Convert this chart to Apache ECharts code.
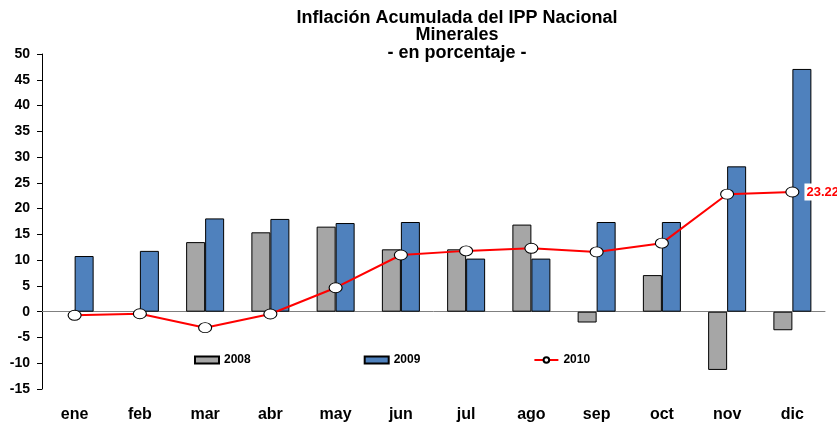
<!DOCTYPE html>
<html>
<head>
<meta charset="utf-8">
<script src="https://cdn.jsdelivr.net/npm/echarts@6/dist/echarts.min.js"></script>
<style>
  html, body { margin: 0; padding: 0; background: #fff; }
  #chart { width: 837px; height: 422px; }
</style>
</head>
<body>
<div id="chart"></div>
<script>
// datos
var meses = ['ene', 'feb', 'mar', 'abr', 'may', 'jun', 'jul', 'ago', 'sep', 'oct', 'nov', 'dic'];
var serie2008 = [null, null, 13.5, 15.4, 16.5, 12.1, 12.1, 16.9, -2.1, 7.1, -11.3, -3.6];
var serie2009 = [10.8, 11.8, 18.1, 18.0, 17.2, 17.4, 10.3, 10.3, 17.4, 17.4, 28.2, 47.1];
var serie2010 = [-0.7, -0.4, -3.1, -0.45, 4.65, 11.0, 11.8, 12.3, 11.6, 13.3, 22.8, 23.22];

var fuente = 'Arial, "Liberation Sans", sans-serif';

var myChart = echarts.init(document.getElementById('chart'));

var option = {
    backgroundColor: '#fff',
    animation: false,
    title: {
        text: 'Inflación Acumulada del IPP Nacional\nMinerales\n- en porcentaje -',
        left: 452,
        textAlign: 'center',
        top: 4,
        textStyle: {
            fontFamily: fuente,
            fontSize: 18,
            fontWeight: 'bold',
            color: '#000',
            lineHeight: 17.5
        }
    },
    legend: {
        left: 189,
        top: 349,
        itemGap: 113,
        itemWidth: 24,
        itemHeight: 7,
        textStyle: { fontFamily: fuente, fontSize: 12, fontWeight: 'bold', color: '#000' },
        data: [
            { name: '2008', icon: 'rect' },
            { name: '2009', icon: 'rect' },
            { name: '2010' }
        ]
    },
    grid: { left: 42, right: 12, top: 54, bottom: 33, outerBoundsMode: 'none', containLabel: false },
    xAxis: [
        {
            // eje en cero, solo linea y marcas
            type: 'category',
            data: meses,
            axisLine: { onZero: true, lineStyle: { color: '#808080', width: 1 } },
            axisTick: { inside: true, length: 5, lineStyle: { color: '#000' } },
            axisLabel: { show: false }
        },
        {
            // etiquetas de meses abajo
            type: 'category',
            data: meses,
            position: 'bottom',
            axisLine: { show: false, onZero: false },
            axisTick: { show: false },
            axisLabel: {
                margin: 18,
                fontFamily: fuente,
                fontSize: 16,
                fontWeight: 'bold',
                color: '#000'
            }
        }
    ],
    yAxis: {
        type: 'value',
        min: -15,
        max: 50,
        interval: 5,
        splitLine: { show: false },
        axisLine: { show: true, lineStyle: { color: '#000', width: 1 } },
        axisTick: { show: true, length: 5, lineStyle: { color: '#000' } },
        axisLabel: {
            margin: 12,
            fontFamily: fuente,
            fontSize: 14,
            fontWeight: 'bold',
            color: '#000'
        }
    },
    series: [
        {
            name: '2008',
            type: 'bar',
            data: serie2008,
            barWidth: 19,
            barGap: '0%',
            itemStyle: { color: '#A6A6A6', borderColor: '#000', borderWidth: 1 }
        },
        {
            name: '2009',
            type: 'bar',
            data: serie2009,
            barWidth: 19,
            barGap: '0%',
            itemStyle: { color: '#4F81BD', borderColor: '#000', borderWidth: 1 }
        },
        {
            name: '2010',
            type: 'line',
            data: serie2010.map(function (v, i) {
                if (i === serie2010.length - 1) {
                    return {
                        value: v,
                        label: {
                            show: true,
                            position: 'right',
                            distance: 5,
                            formatter: '{c}',
                            fontFamily: fuente,
                            fontSize: 13,
                            fontWeight: 'bold',
                            color: '#FF0000',
                            backgroundColor: '#fff',
                            padding: [2, 2]
                        }
                    };
                }
                return v;
            }),
            symbol: 'circle',
            symbolSize: [13, 10],
            lineStyle: { color: '#FF0000', width: 2 },
            itemStyle: { color: '#fff', borderColor: '#000', borderWidth: 1 },
            z: 5
        }
    ]
};

myChart.setOption(option);
</script>
</body>
</html>
